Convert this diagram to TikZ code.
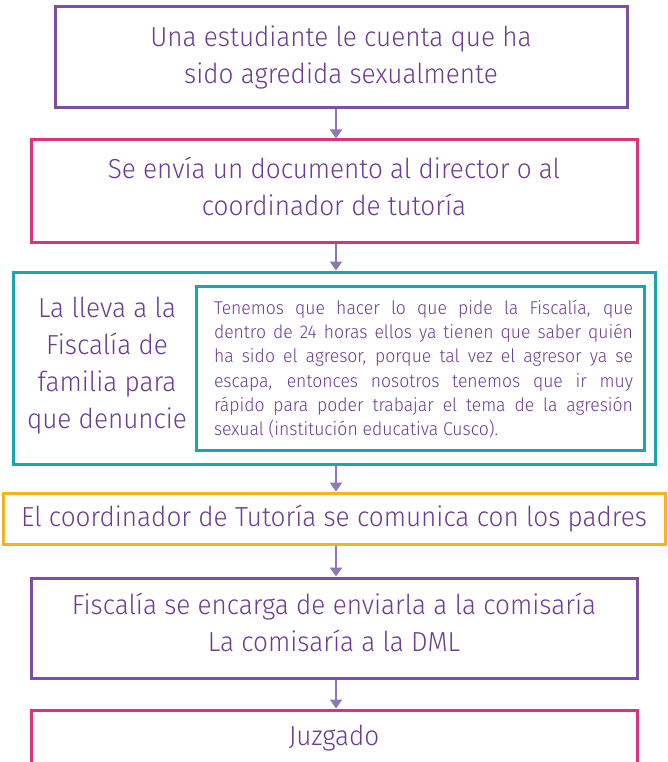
\documentclass[tikz,border=0pt]{standalone}
\usepackage{fontspec}
\setmainfont{Fira Sans}[UprightFont=* Light, FakeStretch=0.95]
\usetikzlibrary{arrows.meta}
\definecolor{cpurple}{HTML}{7D4F9E}
\definecolor{cpink}{HTML}{D8347F}
\definecolor{cteal}{HTML}{1AA6B0}
\definecolor{corange}{HTML}{F6B323}
\definecolor{ctext}{HTML}{6B3D8F}
\definecolor{carrow}{HTML}{9077B8}
\tikzset{
  box/.style={draw, line width=3pt, rectangle, inner sep=0pt},
  lbl/.style={inner sep=0pt, text=ctext, align=center, font=\fontsize{27.5}{37}\selectfont},
  flow/.style={draw=carrow, line width=2pt, -{Triangle[width=12pt,length=9pt]}}
}
\begin{document}
\begin{tikzpicture}[x=1pt,y=-1pt]
\useasboundingbox (0,0) rectangle (668,762);
\clip (0,0) rectangle (668,762);
\node[box, draw=cpurple, minimum width=572pt, minimum height=101pt] (b1) at (341,57.5) {};
\node[lbl] (t1) at (341,57.5) {Una estudiante le cuenta que ha\\sido agredida sexualmente};
\node[box, draw=cpink, minimum width=606pt, minimum height=102pt] (b2) at (334,191) {};
\node[lbl] (t2) at (334,186) {Se envía un documento al director o al\\coordinador de tutoría};
\node[box, draw=cteal, minimum width=642pt, minimum height=192pt] (b3) at (334,368) {};
\node[lbl] (b3l) at (107,366) {La lleva a la\\Fiscalía de\\familia para\\que denuncie};
\node[draw=cteal, line width=3pt, minimum width=448pt, minimum height=164pt, inner sep=0pt] (b3i) at (420,368) {};
\node[text=ctext, text width=419pt, align=justify, font=\fontsize{18.5}{24.2}\selectfont, inner sep=0pt] (b3t) at (423.5,369) {Tenemos que hacer lo que pide la Fiscalía, que\linebreak dentro de 24 horas ellos ya tienen que saber quién\linebreak ha sido el agresor, porque tal vez el agresor ya se\linebreak escapa, entonces nosotros tenemos que ir muy\linebreak rápido para poder trabajar el tema de la agresión\linebreak sexual (institución educativa Cusco).};
\node[box, draw=corange, minimum width=662pt, minimum height=51pt] (b4) at (334,518.5) {};
\node[lbl] (t4) at (334,518.5) {El coordinador de Tutoría se comunica con los padres};
\node[box, draw=cpurple, minimum width=606pt, minimum height=100pt] (b5) at (334,628) {};
\node[lbl] (t5) at (334,622) {Fiscalía se encarga de enviarla a la comisaría\\La comisaría a la DML};
\node[box, draw=cpink, minimum width=606pt, minimum height=56pt] (b6) at (334,738) {};
\node[lbl] (t6) at (334,738) {Juzgado};
\draw[flow] (b1.south -| 336,0) -- (b2.north -| 336,0);
\draw[flow] (b2.south -| 336,0) -- (b3.north -| 336,0);
\draw[flow] (b3.south -| 336,0) -- (b4.north -| 336,0);
\draw[flow] (b4.south -| 336,0) -- (b5.north -| 336,0);
\draw[flow] (b5.south -| 336,0) -- (b6.north -| 336,0);
\end{tikzpicture}
\end{document}
